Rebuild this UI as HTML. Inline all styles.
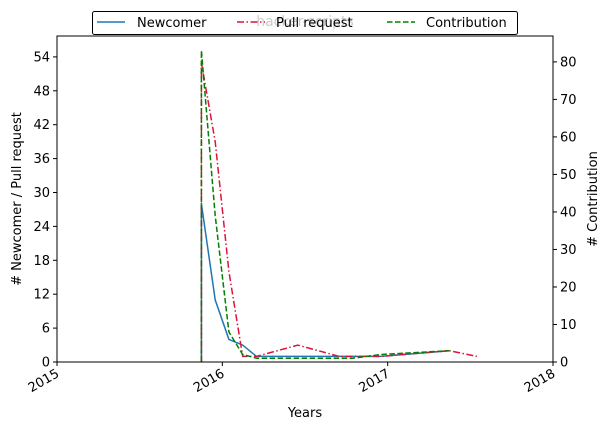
<!DOCTYPE html>
<html><head><meta charset="utf-8"><style>
body{margin:0;background:#fff;}
svg text{font-family:"DejaVu Sans","Liberation Sans",sans-serif;font-size:13px;fill:#000;}
</style></head><body>
<svg id="chart" width="609" height="431" xmlns="http://www.w3.org/2000/svg">
<g id="plot"></g>
<rect x="57" y="36" width="496" height="326" fill="none" stroke="#000" stroke-width="1"/>
<g id="axes"></g>
<text x="305" y="417" text-anchor="middle">Years</text>
<text transform="translate(21,199) rotate(-90)" text-anchor="middle"># Newcomer / Pull request</text>
<text transform="translate(597,199) rotate(-90)" text-anchor="middle"># Contribution</text>
<g>
<rect x="92.5" y="11.5" width="425" height="23" rx="2" fill="#fff" fill-opacity="0.8" stroke="#000" stroke-width="1"/>
<text x="305" y="26" text-anchor="middle" style="fill:#ccc;font-size:14px">hacker-scripts</text>
<g><line x1="97" y1="22" x2="125" y2="22" stroke="#1f77b4" stroke-width="1.5"/><text x="137" y="27">Newcomer</text></g>
<g><line x1="237" y1="22" x2="265" y2="22" stroke="#dc143c" stroke-width="1.5" stroke-dasharray="7,2.5,1.5,2.5"/><text x="276" y="27">Pull request</text></g>
<g><line x1="387" y1="22" x2="415" y2="22" stroke="#008000" stroke-width="1.5" stroke-dasharray="5.5,2.5"/><text x="426" y="27">Contribution</text></g>
</g>
</svg>
<script>
const newcomerDates=["2015-11","2015-11","2015-12","2016-01","2016-02","2016-03","2016-06","2016-10","2016-12","2017-05"];
const newcomerValues=[0,28,11,4,3,1,1,1,1,2];
const prDates=["2015-11","2015-11","2015-12","2016-01","2016-02","2016-03","2016-06","2016-09","2016-12","2017-05","2017-07"];
const prValues=[0,53,39,16,1,1,3,1,1,2,1];
const contribDates=["2015-11","2015-11","2015-12","2016-01","2016-02","2016-03","2016-06","2016-10","2016-12","2017-05"];
const contribValues=[0,83,39,8,2,1,1,1,2,3];
const yTicks=[0,6,12,18,24,30,36,42,48,54];
const y2Ticks=[0,10,20,30,40,50,60,70,80];
const xTicks=[2015,2016,2017,2018];

const L=57,R=553,T=36,B=362;
const xMin=2015,xMax=2018,yMax=57.7,y2Max=86.9;
function dec(s){const p=s.split('-');return +p[0]+(+p[1]-1)/12+0.04;}
function xs(v){return L+(v-xMin)/(xMax-xMin)*(R-L);}
function ys(v){return B-v/yMax*(B-T);}
function y2s(v){return B-v/y2Max*(B-T);}
const NS="http://www.w3.org/2000/svg";
const plot=document.getElementById('plot'),axes=document.getElementById('axes');
function mk(tag,attrs,parent){const e=document.createElementNS(NS,tag);for(const k in attrs)e.setAttribute(k,attrs[k]);parent.appendChild(e);return e;}
function series(dates,vals,sc,color,dash,name){
  const pts=dates.map((d,i)=>xs(dec(d)).toFixed(1)+','+sc(vals[i]).toFixed(1)).join(' ');
  const e=mk('polyline',{points:pts,fill:'none',stroke:color,'stroke-width':1.5,'stroke-dasharray':dash},plot);
  
  
}
series(newcomerDates,newcomerValues,ys,'#1f77b4','none','newcomer-line');
series(prDates,prValues,ys,'#dc143c','7,2.5,1.5,2.5','pull-request-line');
series(contribDates,contribValues,y2s,'#008000','5.5,2.5','contribution-line');
yTicks.forEach(v=>{const y=ys(v);
  mk('line',{x1:L-4,x2:L,y1:y,y2:y,stroke:'#000'},axes);
  const t=mk('text',{x:L-7,y:y+4.5,'text-anchor':'end'},axes);t.textContent=v;
  
  
});
y2Ticks.forEach(v=>{const y=y2s(v);
  mk('line',{x1:R,x2:R+4,y1:y,y2:y,stroke:'#000'},axes);
  const t=mk('text',{x:R+7,y:y+4.5},axes);t.textContent=v;
  
  
});
xTicks.forEach(v=>{const x=xs(v);
  mk('line',{x1:x,x2:x,y1:B,y2:B+4,stroke:'#000'},axes);
  const t=mk('text',{transform:'translate('+(x+3)+','+(B+14)+') rotate(-30)','text-anchor':'end'},axes);t.textContent=v;
  
  
});
</script>
</body></html>
